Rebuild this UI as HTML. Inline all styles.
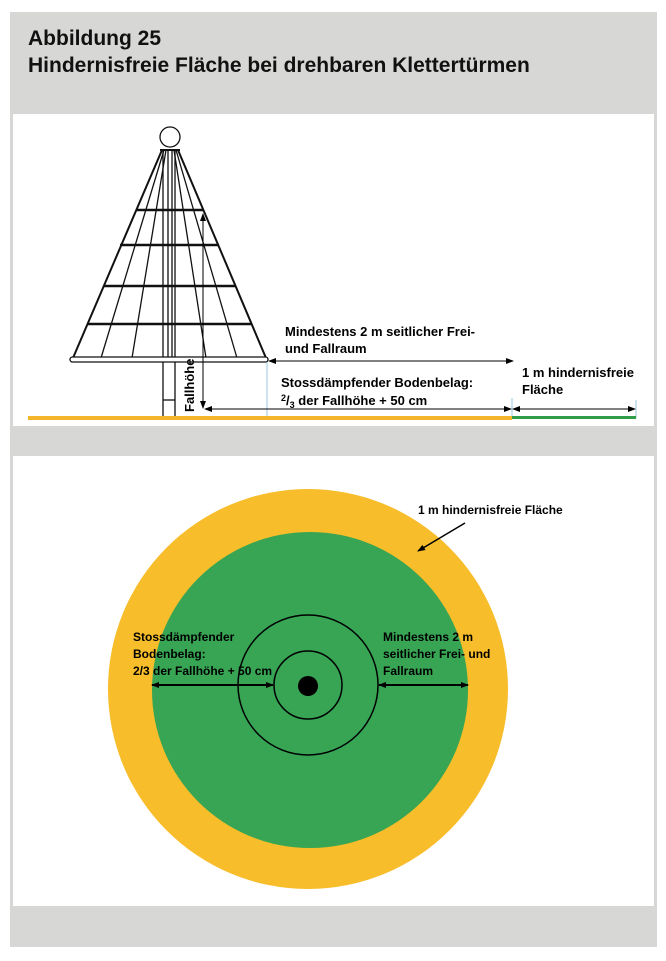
<!DOCTYPE html>
<html><head><meta charset="utf-8"><style>
html,body{margin:0;padding:0;background:#fff;}
svg text{font-family:"Liberation Sans Narrow","Liberation Sans",sans-serif;}
</style></head><body>
<svg width="666" height="956" viewBox="0 0 666 956" xmlns="http://www.w3.org/2000/svg">
<defs>
<marker id="a" markerWidth="8" markerHeight="8" refX="7" refY="4" orient="auto-start-reverse" markerUnits="userSpaceOnUse"><path d="M0,1 L8,4 L0,7 Z" fill="#000"/></marker>
</defs>
<rect x="10" y="12" width="647" height="935" fill="#d7d7d6"/>
<text x="28" y="45" font-size="21" font-weight="bold" fill="#111">Abbildung 25</text>
<text x="28" y="72" font-size="21" font-weight="bold" fill="#111">Hindernisfreie Fläche bei drehbaren Klettertürmen</text>
<rect x="13" y="114" width="641" height="312" fill="#fff"/>
<rect x="13" y="456" width="641" height="450" fill="#fff"/>

<!-- tower -->
<g stroke="#111" fill="none" stroke-width="1.3">
<circle cx="170" cy="137" r="10" fill="#fff"/>
<rect x="163" y="150" width="12" height="268" fill="#fff"/>
<line x1="163" y1="400" x2="175" y2="400"/>
<line x1="160" y1="150" x2="180" y2="150" stroke-width="2"/>
<line x1="162" y1="150" x2="73" y2="358" stroke-width="2"/>
<line x1="178" y1="150" x2="266" y2="358" stroke-width="2"/>
<line x1="164" y1="150" x2="101" y2="358"/>
<line x1="166" y1="150" x2="132" y2="358"/>
<line x1="174" y1="150" x2="206" y2="358"/>
<line x1="176" y1="150" x2="237" y2="358"/>
<line x1="168" y1="150" x2="168" y2="358"/>
<line x1="172" y1="150" x2="172" y2="358"/>
<line x1="137" y1="210" x2="203" y2="210" stroke-width="2.5"/>
<line x1="120" y1="245" x2="219" y2="245" stroke-width="2.5"/>
<line x1="104" y1="286" x2="236" y2="286" stroke-width="2.5"/>
<line x1="88" y1="324" x2="251" y2="324" stroke-width="2.5"/>
<rect x="70" y="357" width="198" height="5" rx="2.5" fill="#fff"/>
</g>
<line x1="203" y1="214" x2="203" y2="408" stroke="#000" stroke-width="1" marker-start="url(#a)" marker-end="url(#a)"/>
<text transform="translate(194,412) rotate(-90)" font-size="13" font-weight="bold">Fallhöhe</text>
<line x1="267" y1="362" x2="267" y2="418" stroke="#9cc7e0" stroke-width="1"/>
<line x1="512" y1="398" x2="512" y2="418" stroke="#9cc7e0" stroke-width="1"/>
<line x1="636" y1="400" x2="636" y2="418" stroke="#9cc7e0" stroke-width="1"/>
<line x1="269" y1="361" x2="513" y2="361" stroke="#000" stroke-width="1" marker-start="url(#a)" marker-end="url(#a)"/>
<line x1="205" y1="409" x2="511" y2="409" stroke="#000" stroke-width="1" marker-start="url(#a)" marker-end="url(#a)"/>
<line x1="513" y1="409" x2="635" y2="409" stroke="#000" stroke-width="1" marker-start="url(#a)" marker-end="url(#a)"/>
<rect x="28" y="416" width="484" height="4" fill="#f5b52a"/>
<rect x="512" y="416" width="124" height="3" fill="#2e9e49"/>
<text x="285" y="336" font-size="13" font-weight="bold">Mindestens 2 m seitlicher Frei-</text>
<text x="285" y="353" font-size="13" font-weight="bold">und Fallraum</text>
<text x="281" y="387" font-size="13" font-weight="bold">Stossdämpfender Bodenbelag:</text>
<text x="281" y="405" font-size="13" font-weight="bold"><tspan font-size="9" dy="-4">2</tspan><tspan dy="4">/</tspan><tspan font-size="9" dy="3">3</tspan><tspan dy="-3"> der Fallhöhe + 50 cm</tspan></text>
<text x="522" y="377" font-size="13" font-weight="bold">1 m hindernisfreie</text>
<text x="522" y="394" font-size="13" font-weight="bold">Fläche</text>

<!-- circle plan -->
<circle cx="308" cy="689" r="200" fill="#f7bd2a"/>
<circle cx="310" cy="690" r="158" fill="#37a553"/>
<circle cx="308" cy="685" r="70" fill="none" stroke="#000" stroke-width="1.5"/>
<circle cx="308" cy="685" r="34" fill="none" stroke="#000" stroke-width="1.5"/>
<circle cx="308" cy="686" r="10" fill="#000"/>
<line x1="152" y1="685" x2="273" y2="685" stroke="#000" stroke-width="2" marker-start="url(#a)" marker-end="url(#a)"/>
<line x1="379" y1="685" x2="468" y2="685" stroke="#000" stroke-width="2" marker-start="url(#a)" marker-end="url(#a)"/>
<line x1="465" y1="523" x2="418" y2="551" stroke="#000" stroke-width="1.5" marker-end="url(#a)"/>
<text x="418" y="514" font-size="12" font-weight="bold">1 m hindernisfreie Fläche</text>
<text x="133" y="641" font-size="12" font-weight="bold">Stossdämpfender</text>
<text x="133" y="658" font-size="12" font-weight="bold">Bodenbelag:</text>
<text x="133" y="675" font-size="12" font-weight="bold">2/3 der Fallhöhe + 50 cm</text>
<text x="383" y="641" font-size="12" font-weight="bold">Mindestens 2 m</text>
<text x="383" y="658" font-size="12" font-weight="bold">seitlicher Frei- und</text>
<text x="383" y="675" font-size="12" font-weight="bold">Fallraum</text>
</svg>
</body></html>
